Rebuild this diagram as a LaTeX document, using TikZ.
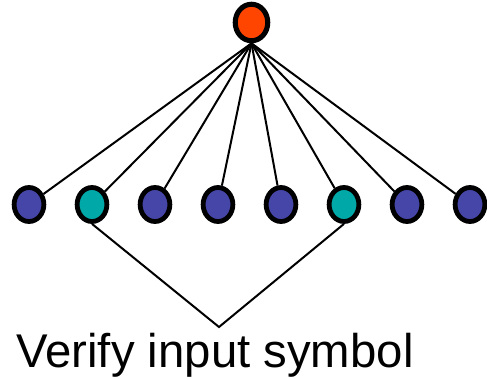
\documentclass[tikz,border=0pt]{standalone}
\usepackage{fontspec}
\setmainfont{Liberation Sans}
\usetikzlibrary{shapes.geometric}
\definecolor{rootred}{HTML}{FF4500}
\definecolor{leafblue}{HTML}{4646A8}
\definecolor{leafteal}{HTML}{00A8A8}
\tikzset{
  leaf/.style={ellipse, draw=black, line width=3.6pt, inner sep=0pt,
    minimum width=22.3pt, minimum height=25.5pt, fill=leafblue},
  tealleaf/.style={leaf, fill=leafteal},
  rootnode/.style={ellipse, draw=black, line width=3.8pt, inner sep=0pt,
    minimum width=24.4pt, minimum height=27.4pt, fill=rootred},
  edge/.style={draw=black, line width=1.5pt},
}
\begin{document}
\begin{tikzpicture}[x=0.75pt,y=-0.75pt]
\useasboundingbox (0,0) rectangle (487,379);
\node[rootnode] (r) at (251.5,22.5) {};
\node[leaf] (b1) at (29,204.5) {};
\node[tealleaf] (b2) at (92,204.5) {};
\node[leaf] (b3) at (155,204.5) {};
\node[leaf] (b4) at (218,204.5) {};
\node[leaf] (b5) at (281,204.5) {};
\node[tealleaf] (b6) at (344,204.5) {};
\node[leaf] (b7) at (407,204.5) {};
\node[leaf] (b8) at (470,204.5) {};
\coordinate (apex) at (219,327);
\foreach \i in {1,...,8} { \draw[edge] (r.south) -- (b\i); }
\draw[edge] (b2.south) -- (apex) -- (b6.south);
\node[anchor=base, inner sep=0pt, font=\fontsize{35.5}{40}\selectfont] (lbl) at (215,367) {Verify input symbol};
\end{tikzpicture}
\end{document}
